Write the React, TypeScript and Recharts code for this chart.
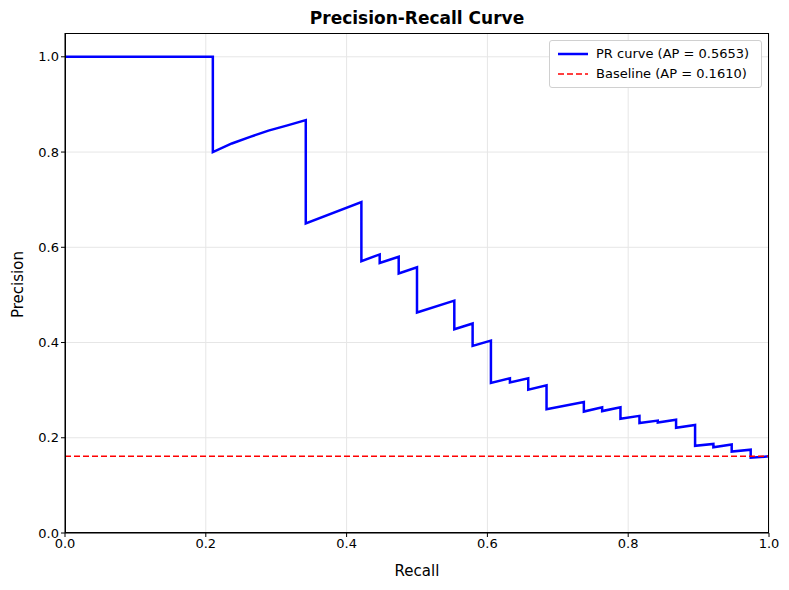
import React from 'react';
import { LineChart, Line, XAxis, YAxis, CartesianGrid } from 'recharts';

const recall = [0, 0.21, 0.21, 0.237, 0.263, 0.289, 0.316, 0.342, 0.342, 0.421, 0.421, 0.447, 0.447, 0.474, 0.474, 0.5, 0.5, 0.553, 0.553, 0.579, 0.579, 0.605, 0.605, 0.632, 0.632, 0.658, 0.658, 0.684, 0.684, 0.737, 0.737, 0.763, 0.763, 0.789, 0.789, 0.816, 0.816, 0.842, 0.842, 0.868, 0.868, 0.895, 0.895, 0.921, 0.921, 0.947, 0.947, 0.974, 0.974, 1.0];
const precision = [1, 1, 0.8, 0.818, 0.832, 0.845, 0.856, 0.867, 0.65, 0.695, 0.571, 0.585, 0.567, 0.58, 0.545, 0.558, 0.463, 0.488, 0.428, 0.44, 0.393, 0.404, 0.315, 0.325, 0.316, 0.325, 0.301, 0.31, 0.26, 0.275, 0.255, 0.264, 0.256, 0.264, 0.24, 0.246, 0.231, 0.236, 0.232, 0.238, 0.221, 0.227, 0.183, 0.187, 0.18, 0.186, 0.171, 0.175, 0.158, 0.161];
const baselineValue = 0.161;
const ticks = [0, 0.2, 0.4, 0.6, 0.8, 1.0];

const prData = recall.map((r, i) => ({ r, p: precision[i] }));
const baseData = [{ r: 0, p: baselineValue }, { r: 1, p: baselineValue }];

const font = 'DejaVu Sans, sans-serif';

export default function App() {
  return (
    <div style={{ position: 'absolute', left: 0, top: 0, width: 789, height: 590, fontFamily: font, background: '#fff' }}>
      <div style={{ position: 'absolute', top: 8, width: '100%', paddingLeft: 65, paddingRight: 20, boxSizing: 'border-box', textAlign: 'center', fontWeight: 'bold', fontSize: 17 }}>
        Precision-Recall Curve
      </div>
      <LineChart width={789} height={590} margin={{ top: 33, right: 20, bottom: 0, left: 0 }}>
        <CartesianGrid stroke="#e6e6e6" horizontalValues={ticks} verticalValues={ticks} />
        <XAxis type="number" dataKey="r" domain={[0, 1]} ticks={ticks} tickFormatter={(v) => v.toFixed(1)}
          height={57} tick={{ fill: '#000', fontSize: 13 }} stroke="#000" tickSize={4}
          label={{ value: 'Recall', position: 'insideBottom', offset: 14, fill: '#000', fontSize: 15 }} allowDuplicatedCategory={false} />
        <YAxis type="number" domain={[0, 1.05]} ticks={ticks} tickFormatter={(v) => v.toFixed(1)}
          width={65} tick={{ fill: '#000', fontSize: 13 }} stroke="#000" tickSize={4}
          label={{ value: 'Precision', angle: -90, position: 'insideLeft', offset: 18, dy: 35, fill: '#000', fontSize: 15 }} />
        <Line data={prData} dataKey="p" type="linear" stroke="#0000ff" strokeWidth={2.5} dot={false} isAnimationActive={false} />
        <Line data={baseData} dataKey="p" type="linear" stroke="#ff0000" strokeWidth={1.5} strokeDasharray="6 3" dot={false} isAnimationActive={false} />
      </LineChart>
      <div style={{ position: 'absolute', left: 65, top: 33, width: 704, height: 500, border: '1px solid #000', boxSizing: 'border-box', pointerEvents: 'none' }} />
      <div style={{ position: 'absolute', left: 549, top: 40, width: 213, border: '1px solid #d0d0d0', borderRadius: 3, background: '#fff', fontSize: 13, padding: '3px 8px', boxSizing: 'border-box', lineHeight: '20px' }}>
        <div style={{ display: 'flex', alignItems: 'center' }}>
          <svg width={30} height={10} style={{ marginRight: 8 }}><line x1={0} y1={5} x2={30} y2={5} stroke="#0000ff" strokeWidth={2.5} /></svg>
          PR curve (AP = 0.5653)
        </div>
        <div style={{ display: 'flex', alignItems: 'center' }}>
          <svg width={30} height={10} style={{ marginRight: 8 }}><line x1={0} y1={5} x2={30} y2={5} stroke="#ff0000" strokeWidth={1.5} strokeDasharray="6 3" /></svg>
          Baseline (AP = 0.1610)
        </div>
      </div>
    </div>
  );
}
